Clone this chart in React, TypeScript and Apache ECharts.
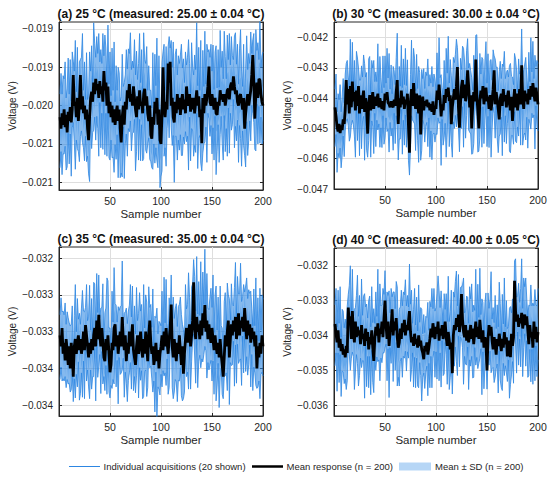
import React, { useEffect, useRef } from "react";
import * as echarts from "echarts";

// Mean response per sample (mV)
const meanA = [
  -20.15,-20.30,-20.10,-20.25,-20.05,-20.28,-20.12,-20.35,-20.08,-20.20,
  -20.02,-20.22,-20.05,-19.60,-20.00,-19.95,-20.15,-19.90,-20.20,-19.98,
  -19.60,-20.05,-19.88,-20.10,-20.00,-20.18,-20.05,-20.30,-20.45,-20.15,
  -19.90,-19.82,-19.95,-19.70,-19.85,-19.65,-19.80,-19.72,-19.90,-19.68,
  -19.85,-19.75,-19.95,-19.55,-19.80,-19.70,-20.00,-19.75,-20.10,-19.95,
  -20.15,-20.00,-20.22,-20.05,-20.25,-20.10,-20.00,-20.20,-20.05,-20.30,
  -20.48,-20.15,-20.00,-20.25,-19.95,-20.05,-19.80,-19.90,-19.72,-19.95,
  -19.85,-20.00,-19.75,-19.90,-20.05,-20.15,-19.88,-20.05,-19.80,-20.00,
  -19.95,-20.10,-19.85,-19.78,-20.00,-19.88,-20.10,-20.20,-20.00,-20.38,
  -20.43,-20.15,-20.25,-19.95,-20.10,-19.90,-20.25,-20.05,-20.45,-20.50,
  -20.10,-19.50,-20.00,-20.15,-19.95,-20.05,-19.45,-19.70,-19.43,-20.00,
  -19.90,-20.15,-20.22,-19.95,-20.10,-19.85,-20.05,-19.90,-20.12,-19.95,
  -19.85,-20.05,-19.92,-20.10,-19.75,-19.95,-20.00,-19.85,-20.08,-19.90,
  -20.05,-19.90,-20.10,-19.95,-19.80,-20.00,-19.88,-20.15,-20.05,-20.49,
  -19.90,-20.10,-19.85,-20.00,-19.90,-19.75,-19.49,-19.95,-20.00,-19.85,
  -19.95,-20.05,-19.90,-20.10,-20.12,-19.95,-20.00,-19.80,-19.92,-19.85,
  -19.95,-19.85,-20.00,-19.90,-19.80,-19.78,-19.92,-19.75,-19.70,-19.80,
  -19.62,-19.75,-19.85,-19.80,-19.95,-20.00,-19.88,-19.85,-19.95,-20.05,
  -19.90,-20.30,-20.10,-19.95,-19.85,-20.00,-19.90,-19.80,-19.60,-19.34,
  -19.70,-20.17,-19.85,-19.70,-19.90,-19.65,-19.67,-19.85,-19.95,-20.00,
];
// Highest individual acquisition above the mean (0.01 mV)
const upA = [
  30,72,25,64,40,85,22,58,70,35, 62,28,75,18,45,80,33,66,24,55,
  20,68,82,30,57,26,74,38,60,85, 35,60,22,78,66,28,70,40,84,25,
  58,30,89,20,72,45,26,80,38,65, 28,75,42,88,30,62,20,70,48,36,
  60,82,25,55,35,78,28,64,40,90, 32,58,24,76,45,86,22,60,74,30,
  68,26,80,38,55,65,30,72,20,58, 40,84,28,62,36,78,25,70,45,30,
  66,20,80,35,72,28,22,60,18,85, 40,98,30,62,84,25,70,45,78,75,
  34,66,22,80,28,58,86,40,24,72, 55,30,76,42,88,26,64,35,90,20,
  62,35,82,28,70,45,22,58,80,30, 74,26,60,88,35,68,24,78,42,56,
  30,82,64,25,72,38,86,28,60,45, 22,66,80,34,75,28,62,84,40,30,
  70,25,58,86,32,68,45,76,28,20, 64,30,84,42,72,25,80,35,60,70,
];
// Lowest individual acquisition below the mean (0.01 mV)
const dnA = [
  66,30,80,38,58,25,72,45,28,56, 35,70,24,62,48,88,30,66,40,75,
  80,28,60,45,72,22,68,36,44,84, 25,74,40,62,30,80,34,58,76,28,
  70,35,62,28,84,40,66,24,58,76, 30,68,45,82,26,60,38,74,22,64,
  40,78,28,70,55,32,86,40,62,25, 74,36,60,28,80,45,24,66,38,72,
  30,62,84,26,58,74,40,22,70,35, 38,68,25,80,45,82,56,30,62,42,
  75,30,66,40,84,25,60,72,35,28, 62,24,78,45,30,86,40,68,26,70,
  80,36,58,24,72,45,84,30,64,40, 28,76,42,66,30,82,55,24,70,36,
  72,40,62,28,84,35,68,45,26,78, 34,66,24,80,48,30,74,58,22,64,
  76,28,60,40,86,25,70,35,62,45, 30,80,42,66,24,74,38,58,84,28,
  62,35,70,26,80,45,30,66,40,76, 52,40,74,28,60,36,82,30,55,45,
];

const meanB = [
  -44.30,-44.60,-44.95,-45.10,-44.85,-45.15,-44.90,-45.05,-44.70,-44.85,
  -44.40,-43.40,-44.20,-43.70,-44.50,-43.60,-44.30,-43.45,-44.10,-43.80,
  -44.40,-43.75,-44.25,-43.60,-44.50,-43.90,-44.35,-44.05,-43.75,-44.45,
  -44.00,-44.30,-45.17,-44.20,-43.90,-44.40,-44.10,-43.80,-44.35,-43.95,
  -44.25,-44.05,-43.85,-44.30,-44.00,-44.20,-44.35,-44.10,-44.40,-43.85,
  -44.05,-43.80,-44.15,-44.20,-44.30,-44.10,-44.25,-44.30,-44.05,-44.25,
  -43.80,-43.40,-44.85,-44.00,-44.30,-43.75,-44.20,-43.95,-44.35,-44.05,
  -44.20,-43.85,-44.90,-45.80,-44.10,-43.70,-44.25,-43.50,-44.10,-44.35,
  -43.85,-44.20,-44.50,-43.90,-45.20,-44.30,-43.95,-44.40,-44.10,-44.25,
  -44.05,-44.30,-44.15,-44.40,-44.20,-44.45,-44.10,-44.55,-44.25,-44.35,
  -43.75,-44.05,-43.55,-44.00,-44.60,-44.20,-44.40,-43.90,-44.15,-43.70,
  -43.95,-43.65,-44.10,-43.90,-44.86,-44.30,-44.00,-43.70,-44.05,-43.60,
  -42.97,-44.30,-44.97,-44.20,-43.60,-43.40,-44.00,-43.55,-44.10,-43.80,
  -43.08,-43.60,-44.30,-43.90,-45.00,-44.25,-43.80,-44.10,-42.72,-43.90,
  -44.40,-45.00,-44.10,-43.75,-44.00,-43.60,-44.20,-43.85,-43.65,-44.10,
  -43.95,-44.35,-43.90,-44.40,-44.10,-43.70,-43.08,-44.20,-43.80,-44.05,
  -44.35,-44.70,-44.00,-43.85,-44.25,-43.70,-44.10,-43.90,-44.30,-43.95,
  -43.75,-44.20,-44.40,-43.95,-44.75,-44.10,-43.70,-44.30,-43.85,-44.40,
  -44.05,-43.70,-44.20,-42.91,-44.00,-44.35,-43.75,-44.10,-43.85,-44.20,
  -43.70,-44.05,-43.60,-43.95,-43.50,-43.85,-44.10,-43.65,-43.90,-44.20,
];
const upB = [
  60,140,50,125,80,160,45,110,135,70, 120,55,145,40,90,155,65,130,48,105,
  42,130,158,60,110,50,142,75,118,160, 70,115,45,150,128,55,135,80,160,50,
  112,60,165,42,138,88,52,150,75,125, 55,145,82,168,60,120,40,135,95,70,
  115,155,50,105,70,150,55,125,80,170, 62,112,48,145,88,162,45,115,140,60,
  130,52,155,75,105,125,60,138,42,112, 80,160,55,118,70,150,48,135,88,60,
  125,42,155,68,138,55,45,115,38,135, 78,170,60,118,160,50,135,88,150,155,
  65,125,45,152,55,112,165,78,48,138, 105,60,145,82,168,52,122,70,80,200,
  118,68,158,55,135,88,45,112,152,60, 142,52,115,168,70,130,48,150,82,108,
  60,158,122,50,138,75,165,55,115,88, 45,128,155,68,145,55,118,160,78,60,
  135,50,112,120,62,130,88,145,55,42, 122,60,160,82,138,50,152,70,115,135,
];
const dnB = [
  130,60,150,72,112,50,140,85,55,108, 68,135,48,120,92,168,60,128,78,145,
  155,55,115,88,140,45,132,70,85,160, 50,142,78,120,60,155,65,112,148,55,
  135,68,120,55,162,78,128,48,112,145, 60,130,88,158,50,115,75,142,45,125,
  78,150,119,135,105,62,165,78,120,50, 142,70,115,74,155,88,48,128,75,138,
  60,120,162,52,85,142,78,45,135,68, 75,130,50,155,88,158,110,60,120,82,
  145,60,128,78,162,50,115,140,68,225, 120,48,150,88,60,165,78,130,52,135,
  155,70,80,48,140,88,162,60,122,78, 55,145,82,128,85,158,170,48,135,70,
  138,75,120,55,162,68,130,88,50,150, 65,128,48,155,92,60,142,112,45,125,
  145,55,118,78,165,50,135,68,120,88, 60,155,140,128,48,142,75,112,162,55,
  120,68,135,50,155,88,140,128,78,145, 100,78,142,55,115,70,158,60,105,88,
];

const meanC = [
  -33.05,-33.20,-32.95,-33.30,-33.15,-33.39,-33.10,-33.25,-33.45,-33.20,
  -33.50,-33.15,-33.35,-33.61,-33.20,-33.10,-33.30,-33.15,-33.05,-33.25,
  -33.10,-33.30,-33.20,-33.00,-33.25,-32.91,-33.05,-33.20,-33.35,-33.15,
  -33.30,-33.10,-33.25,-33.05,-32.95,-33.20,-32.85,-33.10,-32.77,-33.05,
  -33.20,-32.95,-33.15,-33.35,-33.40,-33.10,-33.25,-33.05,-33.30,-33.55,
  -33.45,-33.15,-33.25,-32.95,-32.90,-33.20,-33.05,-33.30,-33.15,-33.00,
  -33.20,-32.80,-33.10,-33.25,-33.05,-33.40,-33.15,-33.30,-33.00,-33.20,
  -33.10,-32.90,-33.25,-33.35,-33.45,-33.20,-33.05,-33.30,-33.15,-33.00,
  -33.25,-33.35,-33.10,-33.30,-33.00,-33.20,-33.40,-33.05,-32.85,-33.15,
  -33.30,-33.20,-33.45,-33.35,-33.15,-33.40,-33.25,-33.50,-33.30,-33.20,
  -33.05,-33.25,-33.00,-33.20,-32.95,-33.15,-33.30,-33.10,-32.95,-32.63,
  -33.20,-33.35,-33.10,-33.25,-33.40,-33.15,-33.30,-33.05,-33.25,-33.45,
  -33.20,-33.57,-33.30,-33.10,-32.95,-33.15,-33.00,-32.90,-33.20,-33.05,
  -32.85,-32.33,-32.95,-33.10,-32.80,-33.00,-32.90,-33.10,-32.85,-33.05,
  -32.75,-32.95,-32.64,-33.00,-32.85,-33.10,-32.90,-33.05,-33.15,-32.95,
  -33.10,-33.25,-33.05,-33.20,-33.30,-33.15,-33.35,-33.10,-33.30,-33.45,
  -33.61,-33.35,-33.05,-33.20,-33.00,-32.85,-33.35,-33.10,-32.90,-33.05,
  -32.85,-33.00,-32.80,-33.10,-32.95,-32.75,-33.05,-32.85,-32.95,-32.80,
  -33.00,-32.68,-32.90,-33.10,-32.85,-33.05,-32.90,-33.15,-32.95,-33.10,
  -33.00,-33.20,-33.05,-33.50,-33.20,-33.35,-33.15,-33.30,-33.05,-33.20,
];
const upC = [
  28,66,22,58,38,78,20,52,64,32, 58,25,70,18,42,74,30,60,22,50,
  20,62,76,28,52,24,69,35,56,78, 32,55,20,72,60,26,64,36,54,24,
  52,28,80,18,66,42,98,74,35,60, 26,70,38,82,28,56,18,64,44,34,
  55,76,22,50,32,72,26,58,36,84, 30,52,22,70,42,80,20,55,68,28,
  62,24,74,35,50,60,28,66,18,52, 36,78,26,56,34,72,22,64,42,28,
  60,18,74,32,66,26,20,56,18,40, 36,82,28,56,78,22,64,42,72,68,
  30,60,20,74,26,52,80,36,22,66, 50,31,70,38,82,24,58,32,80,18,
  56,32,76,26,64,42,20,52,74,28, 87,24,55,82,32,62,22,72,38,50,
  28,76,58,22,66,35,80,26,55,42, 20,60,74,30,70,26,56,78,36,28,
  64,22,52,83,30,62,42,70,26,18, 58,28,78,38,66,22,74,32,55,64,
];
const dnC = [
  60,28,72,34,52,22,66,40,26,50, 32,64,22,34,44,80,28,60,36,68,
  74,26,69,40,66,20,62,32,40,76, 22,68,36,56,28,74,30,52,70,26,
  64,32,56,26,40,36,60,22,52,35, 28,62,40,76,24,55,34,68,20,58,
  36,72,26,64,50,30,80,36,56,22, 68,32,55,26,38,40,22,60,34,66,
  28,56,78,24,52,68,36,20,64,32, 34,62,22,74,40,76,50,28,56,38,
  70,28,60,36,78,22,55,66,32,26, 56,56,72,40,28,80,36,62,24,42,
  74,34,52,22,66,40,78,28,58,36, 26,70,38,60,28,76,50,22,64,32,
  66,36,56,26,78,32,62,40,24,72, 30,60,22,74,44,28,68,52,20,40,
  30,26,55,36,80,22,64,32,56,40, 28,74,38,60,22,68,34,52,78,26,
  56,32,64,24,74,40,28,60,36,70, 48,36,68,27,55,32,76,28,50,40,
];

const meanD = [
  -33.67,-33.95,-34.20,-33.85,-34.35,-34.10,-34.45,-34.25,-34.55,-34.40,
  -34.63,-34.30,-34.50,-33.20,-33.70,-33.45,-34.10,-33.30,-33.90,-34.20,
  -33.60,-34.05,-33.75,-34.00,-33.85,-34.25,-33.70,-34.10,-33.95,-34.30,
  -33.80,-34.15,-33.90,-34.40,-34.05,-34.25,-33.85,-34.35,-34.73,-34.10,
  -33.75,-34.00,-33.65,-34.20,-33.80,-33.95,-33.60,-34.05,-33.50,-33.00,
  -33.70,-34.10,-33.60,-34.30,-33.90,-33.75,-33.25,-34.00,-33.60,-33.85,
  -33.50,-34.05,-34.35,-34.20,-33.80,-34.10,-33.65,-33.90,-33.55,-34.00,
  -33.70,-33.85,-33.60,-33.30,-33.90,-34.20,-34.05,-34.30,-33.95,-34.25,
  -34.10,-34.35,-34.00,-34.30,-34.15,-34.40,-34.50,-34.68,-34.30,-34.45,
  -34.20,-34.55,-34.35,-34.10,-33.80,-34.05,-33.65,-33.90,-34.10,-33.75,
  -33.95,-33.60,-34.15,-33.80,-34.00,-33.70,-34.10,-33.85,-33.60,-34.05,
  -34.30,-33.90,-34.15,-34.40,-34.20,-35.08,-34.00,-33.70,-33.85,-33.50,
  -33.75,-33.40,-33.90,-33.60,-32.81,-33.55,-33.90,-34.05,-33.70,-34.15,
  -33.85,-34.20,-33.95,-33.70,-34.10,-33.80,-34.25,-33.90,-33.60,-34.05,
  -33.75,-34.10,-33.55,-33.90,-34.20,-33.85,-34.35,-34.05,-34.20,-35.00,
  -34.10,-33.70,-34.00,-33.75,-34.15,-34.40,-34.05,-34.25,-34.55,-34.10,
  -34.30,-33.95,-34.20,-34.45,-34.10,-34.35,-33.90,-34.25,-34.05,-34.60,
  -34.15,-34.40,-34.62,-33.95,-34.30,-34.05,-32.43,-33.30,-33.60,-33.40,
  -33.75,-33.50,-33.65,-33.35,-33.80,-33.55,-33.40,-33.70,-33.45,-33.85,
  -34.25,-33.70,-34.05,-33.90,-34.35,-33.60,-34.10,-33.75,-34.20,-33.90,
];
const upD = [
  55,130,45,115,70,150,40,100,125,62, 110,50,135,38,113,145,58,120,42,95,
  40,120,148,55,100,45,132,68,108,150, 62,105,40,140,118,50,125,72,150,45,
  100,55,155,38,128,80,48,140,68,86, 50,135,75,158,55,110,36,125,85,62,
  105,145,45,95,62,140,50,115,72,160, 55,100,42,135,80,150,40,105,130,55,
  120,48,145,68,95,115,55,128,38,100, 72,150,50,108,62,140,42,125,80,55,
  115,131,145,60,128,50,40,105,35,125, 70,160,55,108,150,45,125,80,140,135,
  60,115,40,98,20,100,155,70,42,128, 95,55,135,75,158,48,112,62,150,35,
  122,62,148,50,125,80,40,100,142,55, 132,48,105,158,62,120,42,140,75,98,
  55,148,112,45,128,68,155,50,105,80, 40,118,145,60,135,50,57,150,70,55,
  125,45,100,155,58,120,80,135,50,38, 112,55,150,75,128,45,142,62,105,125,
];
const dnD = [
  120,55,140,65,100,45,130,78,50,98, 62,125,80,110,85,155,55,118,70,135,
  145,50,105,145,130,40,122,62,78,150, 45,132,70,110,55,145,58,100,91,50,
  125,62,110,50,150,70,118,45,100,135, 55,120,78,148,45,105,68,132,40,115,
  70,140,85,125,95,55,155,70,110,45, 132,62,105,50,142,78,45,118,68,125,
  55,110,150,48,100,148,70,40,122,62, 68,118,45,140,80,145,100,55,110,72,
  130,55,115,70,148,45,105,125,60,50, 110,45,140,80,55,60,70,118,48,125,
  140,62,100,45,128,80,150,55,112,70, 48,135,75,118,50,142,95,45,125,58,
  120,70,110,48,150,62,118,80,45,54, 58,115,45,132,80,52,130,95,40,72,
  135,50,108,104,148,45,125,62,100,72, 55,140,78,118,45,132,62,95,148,50,
  110,60,125,45,138,80,55,118,70,135, 90,70,128,50,105,62,120,55,98,80,
];

// Standard deviation across acquisitions (mV), per panel
const sdMv = [0.22, 0.45, 0.2, 0.45];

const titles = [
  "(a) 25 °C (measured: 25.00 ± 0.04 °C)",
  "(b) 30 °C (measured: 30.00 ± 0.04 °C)",
  "(c) 35 °C (measured: 35.00 ± 0.04 °C)",
  "(d) 40 °C (measured: 40.00 ± 0.05 °C)",
];

const yTicksA = [-0.021, -0.0205, -0.02, -0.0195, -0.019];
const yLabelsA = ["−0.021", "−0.021", "−0.020", "−0.019", "−0.019"];
const yTicksB = [-0.047, -0.046, -0.045, -0.044, -0.043, -0.042];
const yLabelsB = ["−0.047", "−0.046", "−0.045", "−0.044", "−0.043", "−0.042"];
const yTicksC = [-0.034, -0.0335, -0.033, -0.0325, -0.032];
const yLabelsC = ["−0.034", "−0.034", "−0.033", "−0.033", "−0.032"];
const yTicksD = [-0.036, -0.035, -0.034, -0.033, -0.032];
const yLabelsD = ["−0.036", "−0.035", "−0.034", "−0.033", "−0.032"];

const xTickLabels = ["50", "100", "150", "200"];

const legendLabels = [
  "Individual acquisitions (20 shown)",
  "Mean response (n = 200)",
  "Mean ± SD (n = 200)",
];

const FONT = "'Liberation Sans', Arial, Helvetica, sans-serif";
const BLUE = "#2d86e2";
const LIGHT = "#b6d6f6";
const AXIS = "#262626";

const panels = [
  { mean: meanA, up: upA, dn: dnA, sd: sdMv[0], ticks: yTicksA, labels: yLabelsA, min: -0.0211, max: -0.01891, step: 0.0005, grid: { left: 59, top: 22, width: 204, height: 168 } },
  { mean: meanB, up: upB, dn: dnB, sd: sdMv[1], ticks: yTicksB, labels: yLabelsB, min: -0.047, max: -0.04148, step: 0.001, grid: { left: 334, top: 22, width: 204, height: 167 } },
  { mean: meanC, up: upC, dn: dnC, sd: sdMv[2], ticks: yTicksC, labels: yLabelsC, min: -0.034145, max: -0.03185, step: 0.0005, grid: { left: 59, top: 247, width: 204, height: 169 } },
  { mean: meanD, up: upD, dn: dnD, sd: sdMv[3], ticks: yTicksD, labels: yLabelsD, min: -0.03631, max: -0.03149, step: 0.001, grid: { left: 334, top: 248, width: 204, height: 168 } },
];

function band(idx: number, lo: number[], hi: number[], color: string, opacity: number) {
  return {
    type: "custom",
    xAxisIndex: idx,
    yAxisIndex: idx,
    silent: true,
    clip: true,
    data: lo.map((v, i) => [i + 1, v, hi[i]]),
    encode: { x: 0, y: [1, 2] },
    renderItem: (params: any, api: any) => {
      if (params.dataIndex !== 0) return null;
      const pts: number[][] = [];
      for (let i = 0; i < hi.length; i++) pts.push(api.coord([i + 1, hi[i]]));
      for (let i = lo.length - 1; i >= 0; i--) pts.push(api.coord([i + 1, lo[i]]));
      return { type: "polygon", shape: { points: pts }, style: { fill: color, opacity }, silent: true };
    },
  };
}

function line(idx: number, vals: number[], color: string, width: number, opacity = 1) {
  return {
    type: "line",
    xAxisIndex: idx,
    yAxisIndex: idx,
    silent: true,
    symbol: "none",
    showSymbol: false,
    data: vals.map((v, i) => [i + 1, v]),
    lineStyle: { color, width, opacity },
    clip: true,
  };
}

function buildOption() {
  const grids: any[] = [];
  const xAxes: any[] = [];
  const yAxes: any[] = [];
  const series: any[] = [];
  const graphic: any[] = [];

  panels.forEach((p, k) => {
    grids.push({ ...p.grid, show: true, borderColor: AXIS, borderWidth: 1, containLabel: false });
    xAxes.push({
      type: "value",
      gridIndex: k,
      min: 0,
      max: 200,
      interval: 50,
      name: "Sample number",
      nameLocation: "middle",
      nameGap: 18,
      nameTextStyle: { fontFamily: FONT, fontSize: 11.5, color: AXIS },
      axisLine: { show: true, lineStyle: { color: AXIS, width: 1 } },
      axisTick: { show: true, inside: true, length: 3, lineStyle: { color: AXIS } },
      axisLabel: {
        margin: 5,
        fontFamily: FONT,
        fontSize: 10.5,
        color: AXIS,
        formatter: (v: number) => {
          const i = [50, 100, 150, 200].indexOf(Math.round(v));
          return i >= 0 ? xTickLabels[i] : "";
        },
      },
      splitLine: { show: true, showMinLine: false, showMaxLine: false, lineStyle: { color: "#dedede", width: 1 } },
    });
    const fmt = (v: number) => {
      const i = p.ticks.findIndex((t) => Math.abs(t - v) < 1e-7);
      return i >= 0 ? p.labels[i] : "";
    };
    yAxes.push({
      type: "value",
      gridIndex: k,
      min: p.min,
      max: p.max,
      minInterval: p.step,
      maxInterval: p.step,
      splitNumber: 5,
      name: "Voltage (V)",
      nameLocation: "middle",
      nameGap: 42,
      nameTextStyle: { fontFamily: FONT, fontSize: 10, color: AXIS },
      axisLine: { show: true, lineStyle: { color: AXIS, width: 1 } },
      axisTick: { show: true, inside: true, length: 3, lineStyle: { color: AXIS } },
      axisLabel: { margin: 6, fontFamily: FONT, fontSize: 10, color: AXIS, formatter: fmt, showMinLabel: true, showMaxLabel: true },
      splitLine: { show: true, showMinLine: false, showMaxLine: false, lineStyle: { color: "#dedede", width: 1 } },
    });

    const mean = p.mean.map((m) => m / 1000);
    const hi = p.mean.map((m, i) => (m + p.up[i] / 100) / 1000);
    const lo = p.mean.map((m, i) => (m - p.dn[i] / 100) / 1000);
    const sdHi = p.mean.map((m) => (m + p.sd) / 1000);
    const sdLo = p.mean.map((m) => (m - p.sd) / 1000);

    series.push(band(k, sdLo, sdHi, LIGHT, 1));
    series.push(band(k, lo, hi, BLUE, 0.58));
    series.push(line(k, hi, BLUE, 0.8, 1));
    series.push(line(k, lo, BLUE, 0.8, 1));
    series.push(line(k, mean, "#000000", 2.8));

    graphic.push({
      type: "text",
      x: p.grid.left + p.grid.width / 2,
      y: p.grid.top - 8.5,
      silent: true,
      style: { text: titles[k], font: `bold 12px ${FONT}`, fill: "#111", align: "center", verticalAlign: "middle" },
    });
  });

  // right-hand frame ticks
  panels.forEach((p, k) => {
    yAxes.push({
      type: "value",
      gridIndex: k,
      position: "right",
      min: p.min,
      max: p.max,
      minInterval: p.step,
      maxInterval: p.step,
      splitNumber: 5,
      axisLine: { show: true, lineStyle: { color: AXIS, width: 1 } },
      axisTick: { show: true, inside: true, length: 3, lineStyle: { color: AXIS } },
      axisLabel: { show: false },
      splitLine: { show: false },
    });
  });

  const ly = 466.5;
  graphic.push(
    { type: "line", silent: true, shape: { x1: 69, y1: ly, x2: 100, y2: ly }, style: { stroke: BLUE, lineWidth: 1 } },
    { type: "text", silent: true, x: 103.5, y: ly, style: { text: legendLabels[0], font: `9.5px ${FONT}`, fill: AXIS, align: "left", verticalAlign: "middle" } },
    { type: "line", silent: true, shape: { x1: 252, y1: ly, x2: 283, y2: ly }, style: { stroke: "#000", lineWidth: 2.5 } },
    { type: "text", silent: true, x: 286.5, y: ly, style: { text: legendLabels[1], font: `9.5px ${FONT}`, fill: AXIS, align: "left", verticalAlign: "middle" } },
    { type: "rect", silent: true, shape: { x: 399, y: ly - 4, width: 32, height: 8 }, style: { fill: LIGHT } },
    { type: "text", silent: true, x: 435, y: ly, style: { text: legendLabels[2], font: `9.5px ${FONT}`, fill: AXIS, align: "left", verticalAlign: "middle" } }
  );

  return {
    animation: false,
    backgroundColor: "#ffffff",
    textStyle: { fontFamily: FONT },
    grid: grids,
    xAxis: xAxes,
    yAxis: yAxes,
    series,
    graphic,
  };
}

export default function App() {
  const ref = useRef<HTMLDivElement>(null);
  useEffect(() => {
    if (!ref.current) return;
    const chart = echarts.init(ref.current, undefined, { renderer: "svg" });
    chart.setOption(buildOption() as any);
    return () => chart.dispose();
  }, []);
  return (
    <div
      ref={ref}
      style={{ position: "absolute", left: 0, top: 0, width: 550, height: 477, background: "#fff" }}
    />
  );
}
